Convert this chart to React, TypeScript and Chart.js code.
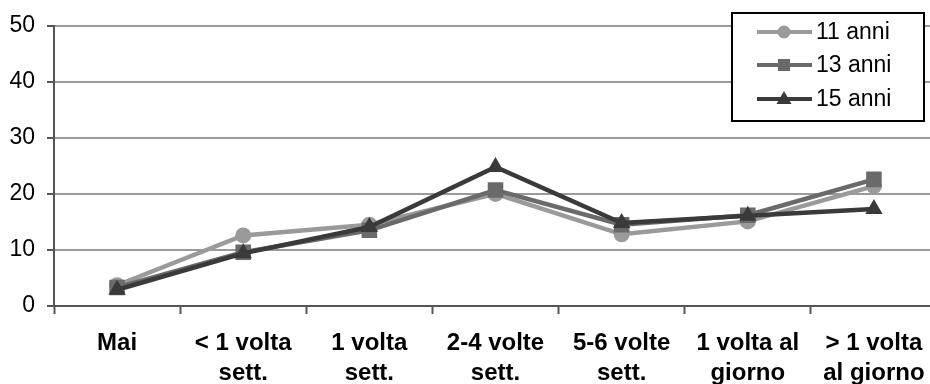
import React, { useEffect, useRef } from "react";
import { Chart, registerables } from "chart.js";

Chart.register(...registerables);

const categories: string[][] = [
  ["Mai"],
  ["< 1 volta", "sett."],
  ["1 volta", "sett."],
  ["2-4 volte", "sett."],
  ["5-6 volte", "sett."],
  ["1 volta al", "giorno"],
  ["> 1 volta", "al giorno"],
];

const seriesNames = ["11 anni", "13 anni", "15 anni"];
const anni11 = [3.7, 12.6, 14.5, 20.0, 12.8, 15.1, 21.4];
const anni13 = [3.3, 9.6, 13.5, 20.7, 14.5, 16.2, 22.6];
const anni15 = [2.9, 9.4, 14.1, 24.8, 14.8, 16.1, 17.3];
const yTicks = [0, 10, 20, 30, 40, 50];

const colors = ["#9a9a9a", "#6a6a6a", "#3a3a3a"];
const styles = ["circle", "rect", "triangle"] as const;
const radii = [8, 11, 10];

const FONT = "'Liberation Sans', Arial, Helvetica, sans-serif";

const legendPlugin = {
  id: "boxLegend",
  afterDraw(chart: any) {
    const ctx = chart.ctx as CanvasRenderingContext2D;
    const bx = 732, by = 13, bw = 192, bh = 108;
    ctx.save();
    ctx.fillStyle = "#ffffff";
    ctx.fillRect(bx, by, bw, bh);
    ctx.strokeStyle = "#000000";
    ctx.lineWidth = 2;
    ctx.strokeRect(bx, by, bw, bh);
    const rows = [32, 65, 99];
    chart.data.datasets.forEach((ds: any, i: number) => {
      const y = rows[i];
      ctx.strokeStyle = ds.borderColor;
      ctx.lineWidth = 4;
      ctx.beginPath();
      ctx.moveTo(757, y);
      ctx.lineTo(812, y);
      ctx.stroke();
      ctx.fillStyle = ds.borderColor;
      const cx = 784;
      if (ds.pointStyle === "circle") {
        ctx.beginPath();
        ctx.arc(cx, y, 6.5, 0, Math.PI * 2);
        ctx.fill();
      } else if (ds.pointStyle === "rect") {
        ctx.fillRect(cx - 6, y - 6, 12, 12);
      } else {
        ctx.beginPath();
        ctx.moveTo(cx, y - 8);
        ctx.lineTo(cx + 7.5, y + 5);
        ctx.lineTo(cx - 7.5, y + 5);
        ctx.closePath();
        ctx.fill();
      }
      ctx.fillStyle = "#000000";
      ctx.font = `23px ${FONT}`;
      ctx.textBaseline = "middle";
      ctx.textAlign = "left";
      ctx.fillText(ds.label, 816, y + 1);
    });
    ctx.restore();
  },
};

export default function App() {
  const ref = useRef<HTMLCanvasElement>(null);
  useEffect(() => {
    document.body.style.overflow = "hidden";
    const seriesData = [anni11, anni13, anni15];
    const chart = new Chart(ref.current!, {
      type: "line",
      data: {
        labels: categories,
        datasets: seriesNames.map((name, i) => ({
          label: name,
          data: seriesData[i],
          borderColor: colors[i],
          backgroundColor: colors[i],
          pointBackgroundColor: colors[i],
          pointBorderColor: colors[i],
          pointBorderWidth: 0,
          pointStyle: styles[i],
          pointRadius: radii[i],
          pointHoverRadius: radii[i],
          borderWidth: 4.5,
          tension: 0,
          order: 3 - i,
        })),
      },
      options: {
        responsive: false,
        animation: false,
        maintainAspectRatio: false,
        layout: { padding: { left: 0, right: 4, top: 23, bottom: 0 } },
        plugins: {
          legend: { display: false },
          tooltip: { enabled: false },
        },
        scales: {
          x: {
            type: "category",
            offset: true,
            afterFit: (s: any) => {
              s.height = 78;
            },
            grid: {
              display: true,
              offset: true,
              drawOnChartArea: false,
              drawTicks: true,
              tickLength: 8,
              tickColor: "#555555",
              tickWidth: 2,
            },
            border: { display: true, color: "#555555", width: 2 },
            ticks: {
              color: "#000000",
              font: { family: FONT, size: 24, weight: "bold", lineHeight: 1.25 },
              padding: 14,
              maxRotation: 0,
              autoSkip: false,
            },
          },
          y: {
            min: 0,
            max: 50,
            afterFit: (s: any) => {
              s.width = 54;
            },
            afterBuildTicks: (s: any) => {
              s.ticks = yTicks.map((v) => ({ value: v }));
            },
            grid: {
              color: (c: any) => (c.tick && c.tick.value === 0 ? "rgba(0,0,0,0)" : "#9a9a9a"),
              lineWidth: 2,
              drawTicks: true,
              tickLength: 7,
              tickColor: "#555555",
              tickWidth: 2,
            },
            border: { display: true, color: "#555555", width: 2 },
            ticks: {
              color: "#000000",
              font: { family: FONT, size: 23 },
              padding: 12,
            },
          },
        },
      },
      plugins: [legendPlugin],
    });
    return () => chart.destroy();
  }, []);
  return (
    <div style={{ position: "fixed", left: 0, top: 0, width: 948, height: 384, background: "#fff" }}>
      <canvas ref={ref} width={948} height={384} style={{ display: "block" }} />
    </div>
  );
}
